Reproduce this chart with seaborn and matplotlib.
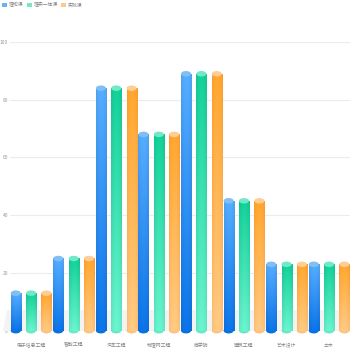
import numpy as np
import pandas as pd
import matplotlib
matplotlib.use("Agg")
import matplotlib.pyplot as plt
import seaborn as sns
from matplotlib.patches import Ellipse, Rectangle, Polygon
from matplotlib.colors import to_rgb

categories = ["电子信息工程", "智能工程", "汽车工程", "物理网工程", "商学院", "建筑工程", "艺术设计", "土木"]
series = ["理论课", "理实一体课", "实践课"]
theory = [13, 25, 84, 68, 89, 45, 23, 23]
integrated = [13, 25, 84, 68, 89, 45, 23, 23]
practice = [13, 25, 84, 68, 89, 45, 23, 23]
y_ticks = [0, 20, 40, 60, 80, 100]

# cylinder colours per series: gradient top, gradient bottom, top cap, legend swatch
top_colors = ["#52a6f4", "#12c892", "#ffa02c"]
bottom_colors = ["#0a6fdf", "#66eac6", "#ffc27e"]
cap_colors = ["#80bef7", "#6fe9c7", "#ffcd95"]
legend_colors = ["#6cb3f6", "#76e8c8", "#ffc98c"]

df = pd.DataFrame({
    "category": categories * 3,
    "series": np.repeat(series, len(categories)),
    "value": theory + integrated + practice,
})

sns.set_theme(style="white")
plt.rcParams["font.family"] = ["Noto Sans CJK SC", "DejaVu Sans"]

W = H = 350
fig = plt.figure(figsize=(3.5, 3.5), dpi=100)
ax = fig.add_axes([9.8 / W, (H - 330.7) / H, 340.6 / W, 288.7 / H])

sns.barplot(data=df, x="category", y="value", hue="series", hue_order=series,
            palette=top_colors, width=1.08, gap=0.347, ax=ax, legend=False,
            zorder=3, saturation=1)

ax.set_xlim(-0.5, len(categories) - 0.5)
ax.set_ylim(0, 100)

cap_h = 1.9  # ellipse height in data units
for i, cont in enumerate(ax.containers):
    top = np.array(to_rgb(top_colors[i]))
    bot = np.array(to_rgb(bottom_colors[i]))
    for bar in cont.patches:
        x0, y0 = bar.get_x(), bar.get_y()
        w, h = bar.get_width(), bar.get_height()
        t = np.linspace(0, 1, 256)[:, None, None]
        col = top * (1 - t) + bot * t
        # gentle cylindrical shading across the bar
        s = np.linspace(-1, 1, 64)[None, :, None]
        shade = 1.0 + 0.05 * (1 - s ** 2) - 0.03 * s ** 2
        img = np.clip(col * shade, 0, 1)
        ax.imshow(img, extent=[x0, x0 + w, y0, y0 + h], origin="upper",
                  aspect="auto", zorder=3, interpolation="bilinear")
        bar.set_alpha(0)
        cx = x0 + w / 2
        ax.add_patch(Ellipse((cx, y0), w, cap_h, color=bottom_colors[i],
                             zorder=2.9, clip_on=False, lw=0))
        ax.add_patch(Ellipse((cx, y0 + h), w, cap_h, color=cap_colors[i],
                             zorder=4, clip_on=False, lw=0))

ax.set_xlim(-0.5, len(categories) - 0.5)
ax.set_ylim(0, 100)

# light floor behind the bars
floor = Polygon([(-0.02, 0), (1.0, 0), (1.0, 0.0717), (-0.008, 0.0717)],
                closed=True, transform=ax.transAxes, color="#f3f3f3",
                zorder=1, clip_on=False, lw=0)
ax.add_patch(floor)

ax.set_yticks(y_ticks)
ax.yaxis.grid(True, color="#ececec", lw=0.8, zorder=0)
ax.set_axisbelow(True)
for s in ax.spines.values():
    s.set_visible(False)
ax.set_xlabel("")
ax.set_ylabel("")
ax.tick_params(axis="y", length=0, pad=1.3, labelsize=3.5, labelcolor="#999999")
ax.tick_params(axis="x", length=0, pad=8.6, labelsize=3.5, labelcolor="#888888")

# legend across the top-left
leg_x = [1.7, 26.7, 60.7]
for name, c, lx in zip(series, legend_colors, leg_x):
    fig.patches.append(Rectangle((lx / W, 1 - 7.3 / H), 4.8 / W, 4.6 / H,
                                 transform=fig.transFigure, color=c, lw=0))
    fig.text((lx + 7.3) / W, 1 - 5.0 / H, name, fontsize=3.5, color="#888888",
             va="center", ha="left")

fig.savefig("out.png", dpi=100)
